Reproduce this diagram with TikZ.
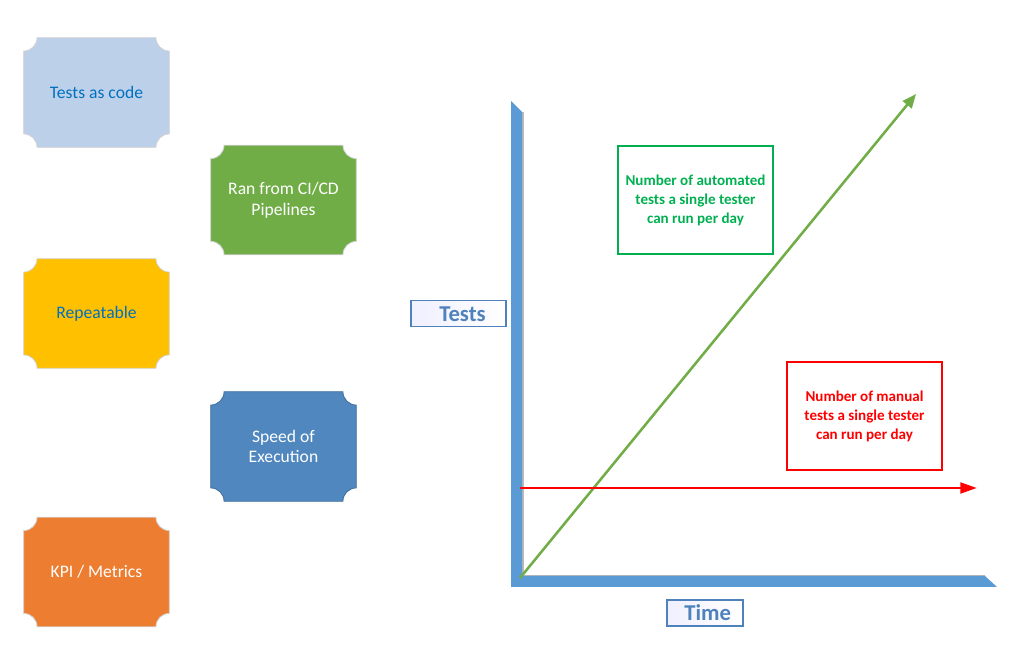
\documentclass[tikz,border=0pt]{standalone}
\usepackage{fontspec}
\setmainfont{Carlito}
\usepackage{tikz}
\usetikzlibrary{arrows.meta,backgrounds}
\definecolor{codeblue}{HTML}{BDD0E9}
\definecolor{textblue}{HTML}{0070C0}
\definecolor{pipegreen}{HTML}{70AD47}
\definecolor{repyellow}{HTML}{FFC000}
\definecolor{speedblue}{HTML}{4F87BE}
\definecolor{speededge}{HTML}{41719C}
\definecolor{kpiorange}{HTML}{ED7D31}
\definecolor{axisblue}{HTML}{5B9BD5}
\definecolor{labelblue}{HTML}{4F81BD}
\definecolor{autogreen}{HTML}{00B050}
\newcommand{\plaq}[3]{%
  \filldraw[fill=#2, draw=#3, line width=0.6pt]
    ([yshift=10pt]#1.south west) arc[start angle=90, end angle=0, radius=10pt]
    -- ([xshift=-10pt]#1.south east) arc[start angle=180, end angle=90, radius=10pt]
    -- ([yshift=-10pt]#1.north east) arc[start angle=270, end angle=180, radius=10pt]
    -- ([xshift=10pt]#1.north west) arc[start angle=0, end angle=-90, radius=10pt]
    -- cycle;}

\begin{document}
\begin{tikzpicture}[x=0.75pt, y=0.75pt,
    plaque/.style={minimum width=108.75pt, minimum height=81.75pt, inner sep=0pt,
      align=center, font=\fontsize{13.2}{15.5}\selectfont},
    notebox/.style={draw=#1, text=#1, line width=0.8pt, minimum width=116.25pt,
      minimum height=81pt, align=center, font=\fontsize{11.3}{14.3}\selectfont\bfseries},
    axislabel/.style={draw=labelblue, line width=0.8pt, left color=blue!6, right color=white,
      text=labelblue, minimum height=19.5pt, inner sep=0pt, font=\fontsize{17}{20}\selectfont\bfseries}]
    \useasboundingbox (0,0) rectangle (1014,659);

    \node[plaque, text=textblue] (code) at (96.5,566.5) {Tests as code};
    \node[plaque, text=white] (ci) at (283.5,459) {Ran from CI/CD\\Pipelines};
    \node[plaque, text=textblue] (rep) at (96.5,345.5) {Repeatable};
    \node[plaque, text=white] (speed) at (283.5,212.5) {Speed of\\Execution};
    \node[plaque, text=white] (kpi) at (96.5,87) {KPI / Metrics};

    \begin{scope}[on background layer]
      \plaq{code}{codeblue}{gray!35}
      \plaq{ci}{pipegreen}{gray!35}
      \plaq{rep}{repyellow}{gray!35}
      \plaq{speed}{speedblue}{speededge}
      \plaq{kpi}{kpiorange}{gray!35}
    \end{scope}

    %L shaped axes
    \draw[gray!55, line width=1pt] (523,547) -- (523,83.5) -- (985,83.5);
    \fill[axisblue] (511,558) -- (522,547) -- (522,83) -- (985,83) -- (997,72) -- (511,72) -- cycle;

    \node[axislabel, minimum width=71.25pt] (tests) at (458.5,345.2) {\hspace{6pt}Tests};
    \node[axislabel, minimum width=57pt] (time) at (705,46) {\hspace{4pt}Time};

    \node[notebox=autogreen] (auto) at (695.5,459) {Number of automated\\tests a single tester\\can run per day};
    \node[notebox=red] (manual) at (864.5,243) {Number of manual\\tests a single tester\\can run per day};

    \coordinate (origin) at (520,81);
    \coordinate (autoend) at (916,565);
    \coordinate (manstart) at (520,171);
    \coordinate (manend) at (977,171);

    \draw[pipegreen, line width=1.9pt, -{Triangle[length=10.5pt, width=8.5pt]}] (origin) -- (autoend);
    \draw[red, line width=2.2pt, -{Triangle[length=12.5pt, width=8pt]}] (manstart) -- (manend);
\end{tikzpicture}
\end{document}
